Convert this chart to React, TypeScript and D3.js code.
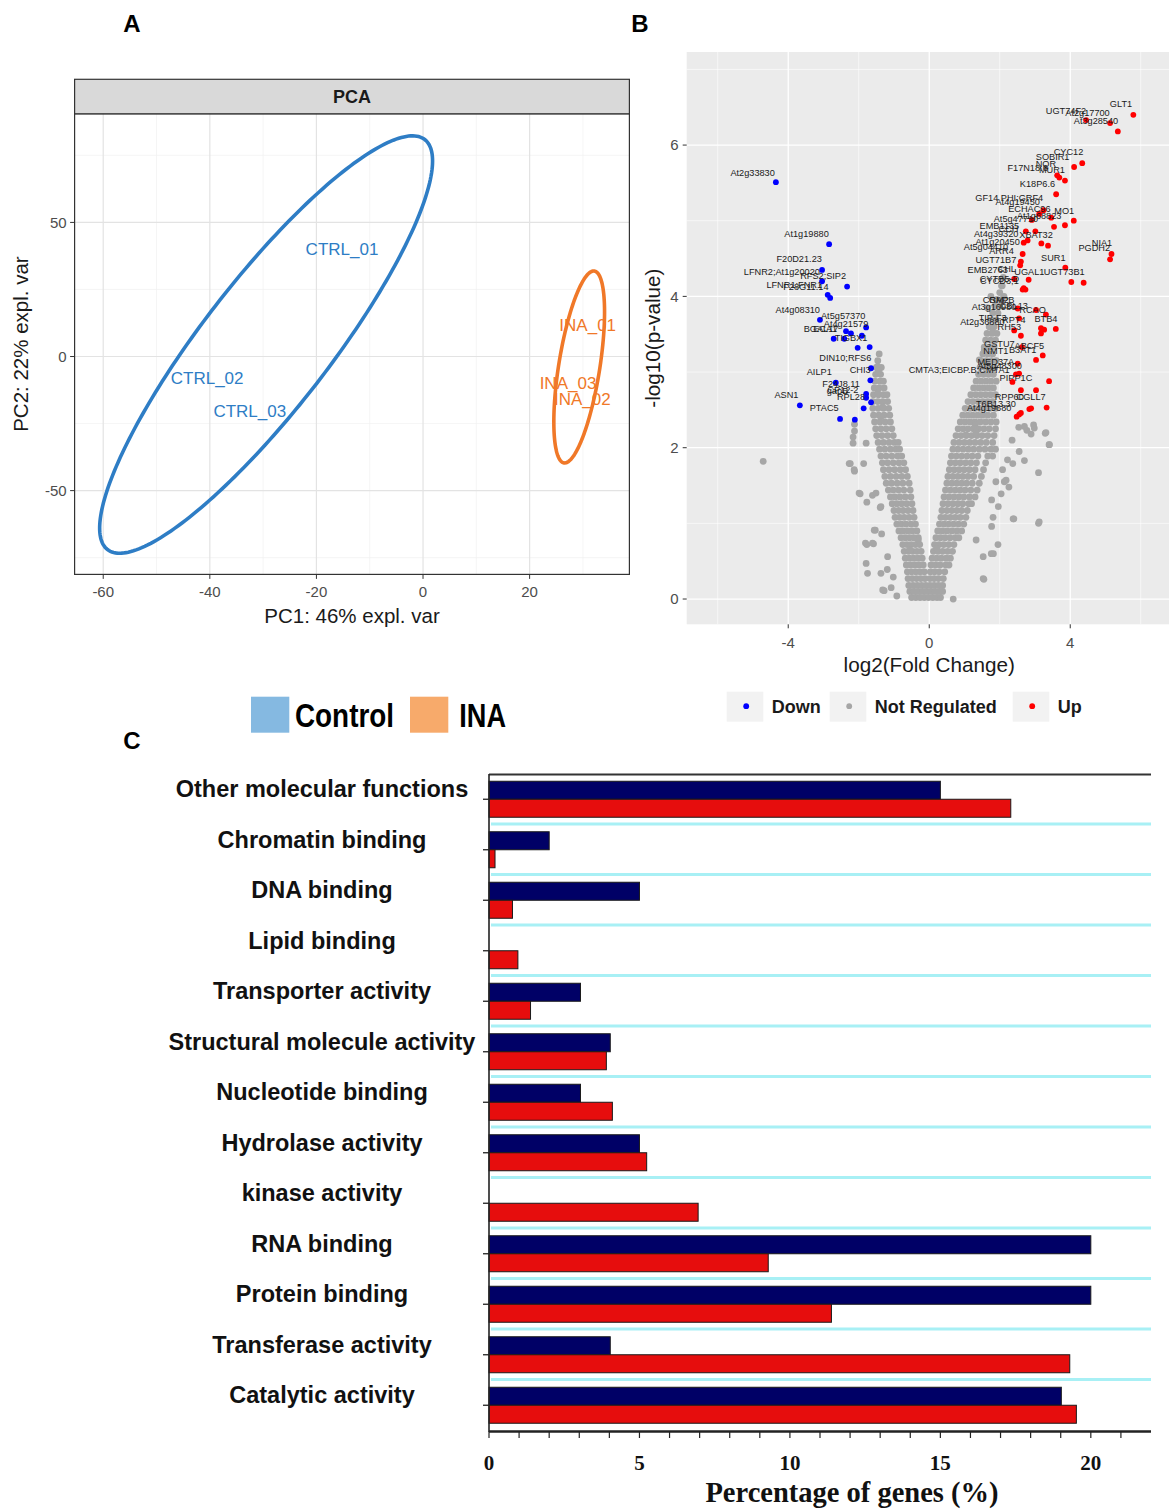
import * as d3 from "d3";
import { useEffect, useRef } from "react";

const SANS = "'Liberation Sans', Arial, Helvetica, sans-serif";
const SERIF = "'Liberation Serif', 'Times New Roman', serif";

// ---------- A: PCA ----------
const pcaSamples = ["CTRL_01", "CTRL_02", "CTRL_03", "INA_01", "INA_02", "INA_03"];
const pcaGroup = ["Control", "Control", "Control", "INA", "INA", "INA"];
const pcaX = [-15.2, -40.5, -32.5, 30.9, 29.9, 27.2];
const pcaY = [40.0, -8.0, -20.2, 11.7, -15.9, -9.9];
// ellipse per group: centre, major half-axis, minor half-axis (data units)
const ellipseGroups = ["Control", "INA"];
const ellipseCentre = [[-29.44, 4.47], [29.3, -3.9]];
const ellipseMajor = [[29.76, 76.44], [2.85, 35.76]];
const ellipseMinor = [[-9.47, 14.54], [-3.81, 1.19]];
const groupColor: Record<string, string> = { Control: "#2E7DC5", INA: "#F07828" };
const pcaXMajor = [-60, -40, -20, 0, 20];
const pcaXMinor = [-50, -30, -10, 10, 30];
const pcaYMajor = [-50, 0, 50];
const pcaYMinor = [-75, -25, 25, 75];

// ---------- B: volcano ----------
const downPoints = [
  [-4.35, 5.51], [-2.84, 4.69], [-3.04, 4.35], [-3.04, 4.2], [-2.33, 4.13], [-2.88, 4.02], [-2.81, 3.98],
  [-3.1, 3.69], [-1.79, 3.59], [-2.36, 3.54], [-2.22, 3.51], [-1.91, 3.48], [-2.71, 3.44], [-2.41, 3.44],
  [-2.03, 3.32], [-1.69, 3.33], [-1.65, 3.05], [-1.67, 2.89], [-2.65, 2.86], [-1.79, 2.71], [-1.79, 2.66],
  [-1.65, 2.6], [-3.67, 2.56], [-1.86, 2.52], [-2.53, 2.38], [-2.11, 2.37],
];
const upPoints = [
  [5.79, 6.4], [5.13, 6.29], [5.35, 6.18], [4.45, 6.33],
  [4.34, 5.76], [4.11, 5.71], [3.85, 5.53], [3.69, 5.57], [3.63, 5.6], [3.6, 5.35],
  [4.1, 5.0], [3.85, 4.94], [3.54, 4.92], [3.46, 5.04], [3.24, 5.14], [3.12, 5.09], [2.91, 5.01],
  [5.17, 4.56], [5.13, 4.49],
  [3.37, 4.67], [3.18, 4.7], [2.79, 4.74], [2.68, 4.71], [2.74, 4.86], [3.01, 4.86],
  [2.65, 4.56], [2.6, 4.46], [2.58, 4.41],
  [3.86, 4.38], [4.03, 4.19], [4.38, 4.18], [2.82, 4.22], [2.41, 4.23], [2.68, 4.11],
  [2.65, 4.09], [2.73, 4.09], [2.51, 3.84], [3.03, 3.82], [3.31, 3.76], [2.55, 3.71], [3.17, 3.58],
  [3.26, 3.56], [3.59, 3.57], [2.41, 3.55], [2.6, 3.48], [3.17, 3.51], [2.63, 3.33], [3.22, 3.22],
  [3.03, 3.16], [2.51, 3.11], [2.55, 2.98], [2.46, 2.97], [3.4, 2.88], [2.6, 2.76], [3.03, 2.76],
  [3.33, 2.53], [2.89, 2.52], [2.84, 2.51], [2.55, 2.44], [2.48, 2.41], [2.6, 2.46], [2.36, 2.87],
];
// dense "not regulated" cloud, read row by row: [-log10 p, log2FC values]
const notRegRows: [number, number[]][] = [
  [0.02, [-0.5, -0.38, -0.26, -0.14, -0.02, 0.1, 0.22, 0.32]],
  [0.1, [-0.55, -0.43, -0.31, -0.19, -0.07, 0.05, 0.17, 0.29, 0.38]],
  [0.18, [-0.58, -0.46, -0.34, -0.22, -0.1, 0.02, 0.14, 0.26, 0.38]],
  [0.27, [-0.6, -0.48, -0.36, -0.24, -0.12, 0.02, 0.14, 0.26, 0.4]],
  [0.36, [-0.62, -0.5, -0.38, -0.26, -0.14, 0.03, 0.15, 0.28, 0.44]],
  [0.45, [-0.65, -0.53, -0.41, -0.29, -0.17, 0.05, 0.18, 0.31, 0.47, 0.56]],
  [0.54, [-0.68, -0.56, -0.44, -0.32, -0.2, 0.08, 0.21, 0.34, 0.48, 0.6]],
  [0.63, [-0.71, -0.59, -0.47, -0.35, -0.23, 0.12, 0.25, 0.38, 0.52, 0.66]],
  [0.72, [-0.75, -0.63, -0.51, -0.39, -0.27, 0.15, 0.28, 0.41, 0.55, 0.7]],
  [0.81, [-0.8, -0.68, -0.56, -0.44, -0.31, 0.19, 0.32, 0.45, 0.59, 0.74, 0.84]],
  [0.9, [-0.86, -0.74, -0.61, -0.48, -0.35, 0.24, 0.37, 0.5, 0.64, 0.78, 0.92]],
  [0.99, [-0.92, -0.79, -0.66, -0.52, -0.39, 0.29, 0.42, 0.55, 0.69, 0.83, 0.98]],
  [1.08, [-0.97, -0.84, -0.71, -0.57, -0.43, 0.33, 0.46, 0.6, 0.74, 0.88, 1.04]],
  [1.17, [-1.0, -0.87, -0.74, -0.6, -0.46, 0.36, 0.5, 0.64, 0.78, 0.92, 1.08]],
  [1.26, [-1.05, -0.92, -0.78, -0.64, -0.49, 0.39, 0.53, 0.67, 0.81, 0.95, 1.12, 1.2]],
  [1.35, [-1.1, -0.97, -0.83, -0.68, -0.52, 0.42, 0.56, 0.7, 0.84, 0.98, 1.14, 1.3]],
  [1.44, [-1.16, -1.02, -0.87, -0.72, -0.54, 0.46, 0.6, 0.74, 0.88, 1.02, 1.18, 1.36]],
  [1.53, [-1.22, -1.07, -0.91, -0.75, -0.57, 0.5, 0.64, 0.78, 0.92, 1.06, 1.22, 1.42]],
  [1.62, [-1.26, -1.1, -0.94, -0.78, -0.62, 0.53, 0.67, 0.81, 0.95, 1.1, 1.26, 1.48]],
  [1.71, [-1.3, -1.14, -0.98, -0.82, -0.67, 0.57, 0.71, 0.85, 0.99, 1.14, 1.3, 1.54]],
  [1.8, [-1.33, -1.18, -1.02, -0.86, -0.72, 0.6, 0.74, 0.88, 1.03, 1.18, 1.34, 1.6]],
  [1.89, [-1.37, -1.22, -1.06, -0.9, -0.78, 0.63, 0.77, 0.92, 1.07, 1.22, 1.38, 1.66, 1.8]],
  [1.98, [-1.41, -1.26, -1.1, -0.95, -0.84, 0.67, 0.81, 0.96, 1.11, 1.26, 1.42, 1.58, 1.75, 1.88]],
  [2.07, [-1.45, -1.3, -1.14, -0.99, -0.88, 0.7, 0.85, 1.0, 1.15, 1.3, 1.46, 1.62, 1.8]],
  [2.16, [-1.49, -1.34, -1.18, -1.02, 0.76, 0.9, 1.05, 1.2, 1.35, 1.5, 1.66, 1.84]],
  [2.25, [-1.52, -1.37, -1.22, -1.06, 0.82, 0.96, 1.1, 1.25, 1.4, 1.55, 1.7, 1.88]],
  [2.34, [-1.55, -1.4, -1.25, -1.1, 0.88, 1.02, 1.16, 1.3, 1.45, 1.6, 1.75, 1.9]],
  [2.43, [-1.58, -1.43, -1.28, -1.12, 0.95, 1.09, 1.23, 1.37, 1.51, 1.66, 1.82]],
  [2.52, [-1.6, -1.45, -1.3, -1.15, 1.02, 1.16, 1.3, 1.44, 1.58, 1.72, 1.88]],
  [2.61, [-1.6, -1.46, -1.32, -1.18, 1.1, 1.24, 1.38, 1.52, 1.66, 1.8]],
  [2.7, [-1.58, -1.44, -1.3, -1.2, 1.18, 1.32, 1.46, 1.6, 1.74, 1.88]],
  [2.79, [-1.56, -1.42, -1.28, 1.26, 1.4, 1.54, 1.68, 1.82]],
  [2.88, [-1.54, -1.4, -1.3, 1.33, 1.47, 1.61, 1.75, 1.9]],
  [2.97, [-1.52, -1.38, 1.4, 1.54, 1.68, 1.82]],
  [3.06, [-1.5, -1.36, 1.44, 1.58, 1.72, 1.86]],
  [3.15, [-1.46, 1.48, 1.62, 1.76, 1.9]],
  [3.24, [-1.42, 1.52, 1.66, 1.8]],
  [3.33, [1.56, 1.7, 1.84]],
  [3.42, [1.6, 1.74, 1.88]],
  [3.51, [1.64, 1.78, 1.92]],
  [3.6, [1.7, 1.84]],
  [3.69, [1.76, 1.9]],
  [3.78, [1.8, 1.95]],
  [3.87, [1.86, 2.0]],
  [3.96, [1.92, 2.06]],
  [4.05, [2.0]],
  [4.14, [2.05]],
];
const notRegScattered = [
  [-4.71, 1.82], [-2.12, 2.31], [-2.12, 2.22], [-2.24, 1.79], [-2.12, 1.69], [-1.96, 1.39], [-1.86, 1.79],
  [-1.77, 1.28], [-1.75, 0.34], [-1.77, 0.72], [-1.58, 0.73], [-1.53, 0.91], [-1.35, 0.86], [-1.39, 1.21],
  [-1.28, 0.11], [-1.19, 0.39], [-1.02, 0.29], [-0.92, 0.04], [-2.27, 1.79], [-2.13, 1.71], [-2.16, 2.06],
  [-2.16, 2.14], [-1.79, 2.06], [-1.99, 1.4], [-1.61, 1.37], [-1.51, 1.4], [-1.37, 1.22], [-1.56, 0.91],
  [-1.81, 0.74], [-1.61, 0.74], [-1.18, 0.56], [-1.32, 0.12], [-1.08, 0.15], [-1.79, 0.47], [-1.37, 0.34],
  [-0.55, 0.65], [-0.31, 0.78], [0.21, 0.67], [-1.46, 3.07], [-1.44, 3.02], [-1.32, 2.54], [-1.46, 2.72],
  [-1.37, 2.41],
  [0.68, 0.0], [1.55, 0.26], [1.76, 0.6], [1.95, 0.72], [1.81, 1.08], [2.4, 1.06], [3.1, 1.0], [3.1, 1.67],
  [2.26, 1.48], [2.7, 1.83], [2.89, 2.18], [3.29, 2.19], [3.41, 2.04], [2.96, 2.3], [2.54, 2.27],
  [2.77, 2.23], [2.37, 1.79], [2.18, 1.57], [2.04, 1.39], [3.4, 2.04], [3.31, 2.2], [3.12, 1.02],
  [2.38, 1.06], [2.98, 2.26], [2.7, 2.28], [2.55, 1.95], [2.35, 2.1], [2.22, 1.84], [2.08, 1.71],
  [1.89, 1.55], [2.13, 1.55], [1.77, 1.31], [1.96, 1.22], [1.77, 0.96], [1.82, 0.6], [1.53, 0.27],
  [1.33, 0.78], [1.53, 0.56], [1.33, 2.2], [1.04, 2.17], [1.3, 2.3], [1.8, 3.53], [1.56, 3.29],
  [1.42, 3.16], [1.65, 3.85], [1.75, 4.0], [2.07, 4.14], [2.12, 4.0], [2.1, 4.25],
];
const geneLabels: [string, number, number][] = [
  ["GLT1", 5.44, 6.55], ["UGT74F2", 3.88, 6.46], ["At2g17700", 4.49, 6.43], ["At3g28540", 4.73, 6.32],
  ["CYC12", 3.95, 5.91], ["SOBIR1", 3.5, 5.85], ["NQR", 3.31, 5.75], ["F17N18.6", 2.79, 5.7],
  ["MUR1", 3.48, 5.67], ["K18P6.6", 3.07, 5.49], ["GF14 PHI;GRF4", 2.27, 5.31], ["At4g19450", 2.51, 5.25],
  ["ECHAC96", 2.84, 5.16], ["MO1", 3.83, 5.13], ["At1g68823", 3.12, 5.06], ["At5g47710", 2.46, 5.03],
  ["EMB1135", 1.99, 4.94], ["CCH", 2.25, 4.9], ["At4g39320", 1.9, 4.83], ["XBAT32", 3.03, 4.81],
  ["At1g20450", 1.94, 4.72], ["At5g04410", 1.61, 4.66], ["ARR4", 2.05, 4.6], ["NIA1", 4.9, 4.71],
  ["PGDH2", 4.68, 4.64], ["SUR1", 3.52, 4.51], ["UGT71B7", 1.89, 4.49], ["EMB2763", 1.66, 4.35],
  ["CHL", 2.2, 4.36], ["UGAL1", 2.84, 4.33], ["UGT73B1", 3.83, 4.32], ["CYTB5-D", 1.99, 4.23],
  ["CYCD3;1", 1.99, 4.21],
  ["CRM2", 1.89, 3.95], ["GAPB", 2.05, 3.95], ["At3g16980", 1.84, 3.86], ["CBL13", 2.4, 3.88],
  ["RCAO", 2.93, 3.83], ["TIP-F3", 1.8, 3.72], ["At2g36880", 1.51, 3.67], ["BTB4", 3.31, 3.71],
  ["RPT4", 2.4, 3.69], ["RH53", 2.27, 3.6], ["GSTU7", 1.99, 3.37], ["ABCF5", 2.84, 3.35],
  ["NMT1", 1.89, 3.28], ["B3AT1", 2.65, 3.3], ["MED37A", 1.89, 3.14], ["At5g48300", 2.0, 3.09],
  ["CMTA3;EICBP.B;CMTA1", 0.85, 3.03], ["PIPP1C", 2.46, 2.92], ["RPP60", 2.27, 2.67], ["CGLL7", 2.89, 2.68],
  ["T6B13.30", 1.89, 2.58], ["At4g19680", 1.7, 2.53],
  ["At2g33830", -5.01, 5.64], ["At1g19880", -3.48, 4.83], ["F20D21.23", -3.69, 4.5],
  ["LFNR2;At1g20020", -4.18, 4.33], ["RFS2;SIP2", -3.01, 4.28], ["LFNR1;FNR1", -3.83, 4.16],
  ["F28G11.14", -3.5, 4.13], ["At4g08310", -3.73, 3.83], ["At5g57370", -2.44, 3.75],
  ["At4g21579", -2.36, 3.64], ["BGAL17", -3.07, 3.57], ["ECA1", -2.95, 3.57], ["TIGBX1", -2.22, 3.46],
  ["DIN10;RFS6", -2.38, 3.19], ["AILP1", -3.12, 3.0], ["CHI3", -1.96, 3.03], ["F24J8.11", -2.5, 2.84],
  ["gapB", -2.6, 2.76], ["CP12-2", -2.45, 2.77], ["RPL28", -2.22, 2.67], ["ASN1", -4.05, 2.7],
  ["PTAC5", -2.98, 2.53],
];
const volcanoLegend = ["Down", "Not Regulated", "Up"];
const volcanoColor = ["#0000FF", "#A6A6A6", "#FF0000"];
const volcanoXMajor = [-4, 0, 4];
const volcanoXMinor = [-6, -2, 2, 6];
const volcanoYMajor = [0, 2, 4, 6];
const volcanoYMinor = [1, 3, 5, 7];

// ---------- C: GO categories ----------
const goCategories = [
  "Other molecular functions", "Chromatin binding", "DNA binding", "Lipid binding",
  "Transporter activity", "Structural molecule activity", "Nucleotide binding", "Hydrolase activity",
  "kinase activity", "RNA binding", "Protein binding", "Transferase activity", "Catalytic activity",
];
const downPct = [15.0, 2.0, 5.0, 0, 3.04, 4.03, 3.04, 5.0, 0, 20.0, 20.0, 4.03, 19.02];
const upPct = [17.34, 0.2, 0.78, 0.96, 1.38, 3.9, 4.1, 5.24, 6.95, 9.28, 11.38, 19.3, 19.52];
const goTicks = [0, 5, 10, 15, 20];
const pcaLegend = ["Control", "INA"];
const pcaLegendFill = ["#85B9E1", "#F7AA6B"];

function drawPCA(svg: any) {
  const x = d3.scaleLinear().domain([-65.37, 38.72]).range([74.6, 629.4]);
  const y = d3.scaleLinear().domain([-81.24, 90.5]).range([574.4, 113.8]);
  const [x0, x1] = x.range();
  const [y0, y1] = y.range();
  const g = svg.append("g");

  g.append("rect").attr("x", x0).attr("y", y1).attr("width", x1 - x0).attr("height", y0 - y1).attr("fill", "#fff");
  g.selectAll(".vmin").data(pcaXMinor).enter().append("line")
    .attr("x1", (d: number) => x(d)).attr("x2", (d: number) => x(d)).attr("y1", y0).attr("y2", y1)
    .attr("stroke", "#F0F0F0").attr("stroke-width", 0.7);
  g.selectAll(".hmin").data(pcaYMinor).enter().append("line")
    .attr("y1", (d: number) => y(d)).attr("y2", (d: number) => y(d)).attr("x1", x0).attr("x2", x1)
    .attr("stroke", "#F0F0F0").attr("stroke-width", 0.7);
  g.selectAll(".vmaj").data(pcaXMajor).enter().append("line")
    .attr("x1", (d: number) => x(d)).attr("x2", (d: number) => x(d)).attr("y1", y0).attr("y2", y1)
    .attr("stroke", "#E3E3E3").attr("stroke-width", 1.2);
  g.selectAll(".hmaj").data(pcaYMajor).enter().append("line")
    .attr("y1", (d: number) => y(d)).attr("y2", (d: number) => y(d)).attr("x1", x0).attr("x2", x1)
    .attr("stroke", "#E3E3E3").attr("stroke-width", 1.2);

  ellipseGroups.forEach((grp, i) => {
    const c = ellipseCentre[i], M = ellipseMajor[i], m = ellipseMinor[i];
    const path = d3.line<number>()
      .x(t => x(c[0] + Math.cos(t) * M[0] + Math.sin(t) * m[0]))
      .y(t => y(c[1] + Math.cos(t) * M[1] + Math.sin(t) * m[1]))
      .curve(d3.curveLinearClosed);
    g.append("path").attr("d", path(d3.range(0, 2 * Math.PI, Math.PI / 120)))
      .attr("fill", "none").attr("stroke", groupColor[grp]).attr("stroke-width", 3.6);
  });

  pcaSamples.forEach((s, i) => {
    g.append("text").attr("x", x(pcaX[i])).attr("y", y(pcaY[i]) + 6).attr("text-anchor", "middle")
      .style("font", `17px ${SANS}`).attr("fill", groupColor[pcaGroup[i]]).text(s);
  });

  g.append("rect").attr("x", x0).attr("y", y1).attr("width", x1 - x0).attr("height", y0 - y1)
    .attr("fill", "none").attr("stroke", "#333").attr("stroke-width", 1.2);
  // strip
  g.append("rect").attr("x", x0).attr("y", 79.3).attr("width", x1 - x0).attr("height", y1 - 79.3)
    .attr("fill", "#D9D9D9").attr("stroke", "#333").attr("stroke-width", 1.2);
  g.append("text").attr("x", (x0 + x1) / 2).attr("y", 103).attr("text-anchor", "middle")
    .style("font", `bold 18px ${SANS}`).attr("fill", "#1a1a1a").text("PCA");

  pcaXMajor.forEach(v => {
    g.append("line").attr("x1", x(v)).attr("x2", x(v)).attr("y1", y0).attr("y2", y0 + 4.5).attr("stroke", "#333");
    g.append("text").attr("x", x(v)).attr("y", y0 + 23).attr("text-anchor", "middle")
      .style("font", `15px ${SANS}`).attr("fill", "#4D4D4D").text(v);
  });
  pcaYMajor.forEach(v => {
    g.append("line").attr("x1", x0 - 4.5).attr("x2", x0).attr("y1", y(v)).attr("y2", y(v)).attr("stroke", "#333");
    g.append("text").attr("x", x0 - 8).attr("y", y(v) + 5.4).attr("text-anchor", "end")
      .style("font", `15px ${SANS}`).attr("fill", "#4D4D4D").text(v);
  });
  g.append("text").attr("x", (x0 + x1) / 2).attr("y", 623).attr("text-anchor", "middle")
    .style("font", `20.5px ${SANS}`).attr("fill", "#1a1a1a").text("PC1: 46% expl. var");
  g.append("text").attr("transform", `translate(28,${(y0 + y1) / 2}) rotate(-90)`).attr("text-anchor", "middle")
    .style("font", `20.5px ${SANS}`).attr("fill", "#1a1a1a").text("PC2: 22% expl. var");
}

function drawVolcano(svg: any) {
  const x = d3.scaleLinear().domain([-6.88, 7.0]).range([686.7, 1176]);
  const y = d3.scaleLinear().domain([-0.334, 7.23]).range([624.3, 52]);
  const [x0, x1] = x.range();
  const [y0, y1] = y.range();
  const g = svg.append("g");

  g.append("rect").attr("x", x0).attr("y", y1).attr("width", x1 - x0).attr("height", y0 - y1).attr("fill", "#EBEBEB");
  volcanoXMinor.forEach(v => g.append("line").attr("x1", x(v)).attr("x2", x(v)).attr("y1", y0).attr("y2", y1)
    .attr("stroke", "#fff").attr("stroke-width", 0.6));
  volcanoYMinor.forEach(v => g.append("line").attr("y1", y(v)).attr("y2", y(v)).attr("x1", x0).attr("x2", x1)
    .attr("stroke", "#fff").attr("stroke-width", 0.6));
  volcanoXMajor.forEach(v => g.append("line").attr("x1", x(v)).attr("x2", x(v)).attr("y1", y0).attr("y2", y1)
    .attr("stroke", "#fff").attr("stroke-width", 1.3));
  volcanoYMajor.forEach(v => g.append("line").attr("y1", y(v)).attr("y2", y(v)).attr("x1", x0).attr("x2", x1)
    .attr("stroke", "#fff").attr("stroke-width", 1.3));

  const grey: number[][] = [];
  notRegRows.forEach(([py, xs]) => xs.forEach(px => grey.push([px, py])));
  notRegScattered.forEach(p => grey.push(p));
  g.selectAll(".nr").data(grey).enter().append("circle")
    .attr("cx", (d: number[]) => x(d[0])).attr("cy", (d: number[]) => y(d[1])).attr("r", 3.4)
    .attr("fill", volcanoColor[1]);
  g.selectAll(".dn").data(downPoints).enter().append("circle")
    .attr("cx", (d: number[]) => x(d[0])).attr("cy", (d: number[]) => y(d[1])).attr("r", 2.9)
    .attr("fill", volcanoColor[0]);
  g.selectAll(".up").data(upPoints).enter().append("circle")
    .attr("cx", (d: number[]) => x(d[0])).attr("cy", (d: number[]) => y(d[1])).attr("r", 2.9)
    .attr("fill", volcanoColor[2]);
  g.selectAll(".lab").data(geneLabels).enter().append("text")
    .attr("x", (d: any) => x(d[1])).attr("y", (d: any) => y(d[2]) + 3.3).attr("text-anchor", "middle")
    .style("font", `9.2px ${SANS}`).attr("fill", "#1a1a1a").text((d: any) => d[0]);

  volcanoXMajor.forEach(v => {
    g.append("line").attr("x1", x(v)).attr("x2", x(v)).attr("y1", y0).attr("y2", y0 + 4).attr("stroke", "#333");
    g.append("text").attr("x", x(v)).attr("y", y0 + 24).attr("text-anchor", "middle")
      .style("font", `15px ${SANS}`).attr("fill", "#4D4D4D").text(v);
  });
  volcanoYMajor.forEach(v => {
    g.append("line").attr("x1", x0 - 4).attr("x2", x0).attr("y1", y(v)).attr("y2", y(v)).attr("stroke", "#333");
    g.append("text").attr("x", x0 - 8).attr("y", y(v) + 5.4).attr("text-anchor", "end")
      .style("font", `15px ${SANS}`).attr("fill", "#4D4D4D").text(v);
  });
  g.append("text").attr("x", x(0)).attr("y", 672).attr("text-anchor", "middle")
    .style("font", `20.7px ${SANS}`).attr("fill", "#1a1a1a").text("log2(Fold Change)");
  g.append("text").attr("transform", `translate(659.5,${(y0 + y1) / 2}) rotate(-90)`).attr("text-anchor", "middle")
    .style("font", `20.7px ${SANS}`).attr("fill", "#1a1a1a").text("-log10(p-value)");

  // legend
  const keyX = [726.7, 829.7, 1012.7];
  volcanoLegend.forEach((name, i) => {
    g.append("rect").attr("x", keyX[i]).attr("y", 691.7).attr("width", 36.6).attr("height", 30).attr("fill", "#F2F2F2");
    g.append("circle").attr("cx", keyX[i] + 19.5).attr("cy", 706.2).attr("r", 2.9).attr("fill", volcanoColor[i]);
    g.append("text").attr("x", keyX[i] + 45).attr("y", 712.5)
      .style("font", `bold 18px ${SANS}`).attr("fill", "#1a1a1a").text(name);
  });
}

function drawBars(svg: any) {
  const yb = d3.scaleBand().domain(goCategories).range([774, 1430.5]);
  const xb = d3.scaleLinear().domain([0, 22]).range([489, 1151]);
  const bw = yb.bandwidth();
  const g = svg.append("g");
  const [x0, x1] = xb.range();

  goCategories.slice(0, -1).forEach(c => {
    g.append("line").attr("x1", x0 + 2).attr("x2", x1).attr("y1", (yb(c) as number) + bw - 0.5)
      .attr("y2", (yb(c) as number) + bw - 0.5).attr("stroke", "#A8F0F5").attr("stroke-width", 3);
  });
  g.append("line").attr("x1", x0).attr("x2", x1).attr("y1", 774.5).attr("y2", 774.5)
    .attr("stroke", "#333").attr("stroke-width", 2);

  goCategories.forEach((c, i) => {
    const mid = (yb(c) as number) + bw / 2;
    if (downPct[i] > 0) {
      g.append("rect").attr("x", x0).attr("y", mid - 18).attr("width", xb(downPct[i]) - x0).attr("height", 18)
        .attr("fill", "#000066").attr("stroke", "#1a1a1a").attr("stroke-width", 1);
    }
    if (upPct[i] > 0) {
      g.append("rect").attr("x", x0).attr("y", mid).attr("width", xb(upPct[i]) - x0).attr("height", 18)
        .attr("fill", "#E60D0D").attr("stroke", "#1a1a1a").attr("stroke-width", 1);
    }
    g.append("line").attr("x1", x0 - 6).attr("x2", x0).attr("y1", mid).attr("y2", mid).attr("stroke", "#222").attr("stroke-width", 1.3);
    g.append("text").attr("x", 322).attr("y", mid - 2).attr("text-anchor", "middle")
      .style("font", `bold 23.5px ${SANS}`).attr("fill", "#111").text(c);
  });

  g.append("line").attr("x1", x0).attr("x2", x0).attr("y1", 774).attr("y2", 1432).attr("stroke", "#222").attr("stroke-width", 1.6);
  g.append("line").attr("x1", x0).attr("x2", x1).attr("y1", 1431.5).attr("y2", 1431.5).attr("stroke", "#222").attr("stroke-width", 2.5);
  d3.range(0, 22).forEach(v => {
    g.append("line").attr("x1", xb(v)).attr("x2", xb(v)).attr("y1", 1431.5).attr("y2", 1438).attr("stroke", "#222").attr("stroke-width", 1.2);
  });
  goTicks.forEach(v => {
    g.append("text").attr("x", xb(v)).attr("y", 1470).attr("text-anchor", "middle")
      .style("font", `bold 21px ${SERIF}`).attr("fill", "#111").text(v);
  });
  g.append("text").attr("x", 852).attr("y", 1502).attr("text-anchor", "middle")
    .style("font", `bold 28.5px ${SERIF}`).attr("fill", "#111").text("Percentage of genes (%)");

  // group legend
  const legX = [251, 410];
  const txtX = [295, 459.3];
  const txtW = [99, 46.7];
  pcaLegend.forEach((name, i) => {
    g.append("rect").attr("x", legX[i]).attr("y", 696.7).attr("width", 38.3).attr("height", 36).attr("fill", pcaLegendFill[i]);
    g.append("text").attr("x", txtX[i]).attr("y", 727).attr("textLength", txtW[i]).attr("lengthAdjust", "spacingAndGlyphs")
      .style("font", `bold 33.5px ${SANS}`).attr("fill", "#000").text(name);
  });
}

export default function App() {
  const ref = useRef<SVGSVGElement | null>(null);
  useEffect(() => {
    const svg = d3.select(ref.current);
    svg.selectAll("*").remove();
    svg.append("rect").attr("width", 1169).attr("height", 1511).attr("fill", "#fff");
    drawPCA(svg);
    drawVolcano(svg);
    drawBars(svg);
    const panel = [["A", 131.8, 31.7], ["B", 640, 32], ["C", 132, 749]];
    panel.forEach(p => {
      svg.append("text").attr("x", p[1]).attr("y", p[2]).attr("text-anchor", "middle")
        .style("font", `bold 24px ${SANS}`).attr("fill", "#000").text(p[0] as string);
    });
  }, []);
  return (
    <svg ref={ref} width={1169} height={1511}
      style={{ position: "absolute", left: 0, top: 0, display: "block" }} />
  );
}
